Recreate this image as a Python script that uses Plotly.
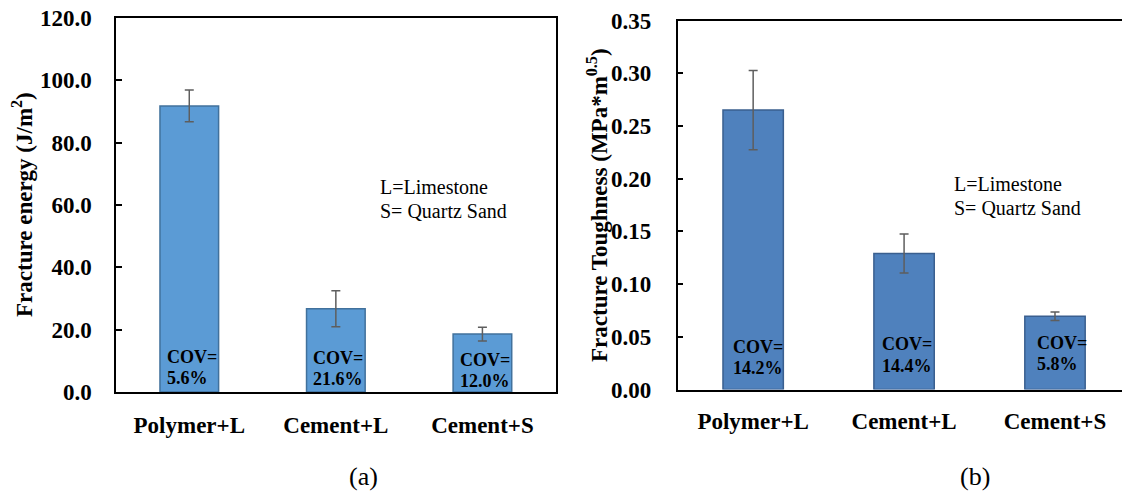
import plotly.graph_objects as go

# ---------------- data ----------------
categories = ["Polymer+L", "Cement+L", "Cement+S"]
energy = [91.8, 26.7, 18.6]
energy_err = [5.1, 5.8, 2.2]
energy_cov = ["5.6%", "21.6%", "12.0%"]
toughness = [0.265, 0.129, 0.0695]
toughness_err = [0.0376, 0.0186, 0.0040]
toughness_cov = ["14.2%", "14.4%", "5.8%"]
energy_ticks = [0, 20, 40, 60, 80, 100, 120]
toughness_ticks = [0.00, 0.05, 0.10, 0.15, 0.20, 0.25, 0.30, 0.35]

# ---------------- style / layout ----------------
FONT = "Liberation Serif"
W, H = 1122, 495
BAR_W = 0.4
# label placements (inside the bars)
e_lab_dx = [0.038, 0.038, 0.038]
e_lab_y1 = [11.2, 10.8, 10.3]
e_lab_y2 = [4.6, 4.2, 3.6]
t_lab_dx = [0.060, 0.046, 0.073]
t_lab_y1 = [0.0406, 0.0429, 0.0444]
t_lab_y2 = [0.0201, 0.0223, 0.0239]

xs = list(range(len(categories)))

fig = go.Figure()
fig.add_trace(go.Bar(
    x=xs, y=energy, width=BAR_W, xaxis="x", yaxis="y",
    marker=dict(color="#5B9BD5", line=dict(color="#41719C", width=1.5)),
    error_y=dict(type="data", array=energy_err, visible=True,
                 color="#5E5E5E", thickness=1.5, width=4.5),
    showlegend=False, hoverinfo="skip"))
fig.add_trace(go.Bar(
    x=xs, y=toughness, width=BAR_W, xaxis="x2", yaxis="y2",
    marker=dict(color="#4F81BD", line=dict(color="#3A5F8F", width=1.5)),
    error_y=dict(type="data", array=toughness_err, visible=True,
                 color="#5E5E5E", thickness=1.5, width=4.5),
    showlegend=False, hoverinfo="skip"))

left_dom = [116 / W, 555.7 / W]
right_dom = [677.7 / W, 1.0]
ybot_l, ytop_l = 392, 18
ybot_r, ytop_r = 389.5, 20.5

tickfont = dict(family=FONT, size=23, color="black")
catfont = dict(family=FONT, size=23, color="black")

axis_common = dict(showgrid=False, zeroline=False, showline=True,
                   linecolor="black", linewidth=1.5, automargin=False)

fig.update_layout(
    width=W, height=H,
    margin=dict(l=0, r=0, t=0, b=0, pad=0, autoexpand=False),
    paper_bgcolor="white", plot_bgcolor="white",
    font=dict(family=FONT, color="black"),
    xaxis=dict(domain=left_dom, anchor="y", range=[-0.5, 2.5],
               tickvals=xs, ticktext=[f"<b>{c}</b>" for c in categories],
               tickfont=catfont, ticks="", mirror=True,
               ticklabelstandoff=12, **axis_common),
    yaxis=dict(domain=[(H - ybot_l) / H, (H - ytop_l) / H], anchor="x",
               range=[0, 120], tickvals=energy_ticks,
               ticktext=[f"<b>{v:.1f}</b>" for v in energy_ticks],
               tickfont=tickfont, ticks="inside", ticklen=6, tickwidth=1.5,
               tickcolor="black", mirror=True, ticklabelstandoff=18,
               **axis_common),
    xaxis2=dict(domain=right_dom, anchor="y2", range=[-0.5, 2.444],
                tickvals=xs, ticktext=[f"<b>{c}</b>" for c in categories],
                tickfont=catfont, ticks="", mirror=True,
                ticklabelstandoff=10, **axis_common),
    yaxis2=dict(domain=[(H - ybot_r) / H, (H - ytop_r) / H], anchor="x2",
                range=[0, 0.35], tickvals=toughness_ticks,
                ticktext=[f"<b>{v:.2f}</b>" for v in toughness_ticks],
                tickfont=tickfont, ticks="inside", ticklen=6, tickwidth=1.5,
                tickcolor="black", mirror=False, ticklabelstandoff=20,
                **axis_common),
)

ann = []
covfont = dict(family=FONT, size=18, color="black")
for i in xs:
    ann.append(dict(x=i - BAR_W / 2 + e_lab_dx[i], y=e_lab_y1[i], xref="x", yref="y",
                    text="<b>COV=</b>", showarrow=False, xanchor="left",
                    yanchor="middle", font=covfont, borderpad=0))
    ann.append(dict(x=i - BAR_W / 2 + e_lab_dx[i], y=e_lab_y2[i], xref="x", yref="y",
                    text=f"<b>{energy_cov[i]}</b>", showarrow=False, xanchor="left",
                    yanchor="middle", font=covfont, borderpad=0))
    ann.append(dict(x=i - BAR_W / 2 + t_lab_dx[i], y=t_lab_y1[i], xref="x2", yref="y2",
                    text="<b>COV=</b>", showarrow=False, xanchor="left",
                    yanchor="middle", font=covfont, borderpad=0))
    ann.append(dict(x=i - BAR_W / 2 + t_lab_dx[i], y=t_lab_y2[i], xref="x2", yref="y2",
                    text=f"<b>{toughness_cov[i]}</b>", showarrow=False, xanchor="left",
                    yanchor="middle", font=covfont, borderpad=0))

notefont = dict(family=FONT, size=20, color="black")
notes = ["L=Limestone", "S= Quartz Sand"]
for px, pys in [(378.7, [187, 210.7]), (952.5, [184, 208.3])]:
    for t, py in zip(notes, pys):
        ann.append(dict(x=px / W, y=(H - py) / H, xref="paper", yref="paper",
                        text=t, showarrow=False, xanchor="left", yanchor="middle",
                        font=notefont, borderpad=0))

titlefont = dict(family=FONT, size=23, color="black")
ann.append(dict(x=22 / W, y=(H - 205) / H, xref="paper", yref="paper",
                text="<b>Fracture energy (J/m<sup>2</sup>)</b>", textangle=-90,
                showarrow=False, xanchor="center", yanchor="middle", font=titlefont))
ann.append(dict(x=597 / W, y=(H - 205) / H, xref="paper", yref="paper",
                text="<b>Fracture Toughness (MPa*m<sup>0.5</sup>)</b>", textangle=-90,
                showarrow=False, xanchor="center", yanchor="middle", font=titlefont))

panfont = dict(family=FONT, size=26, color="black")
ann.append(dict(x=363 / W, y=(H - 476) / H, xref="paper", yref="paper", text="(a)",
                showarrow=False, xanchor="center", yanchor="middle", font=panfont))
ann.append(dict(x=975 / W, y=(H - 476) / H, xref="paper", yref="paper", text="(b)",
                showarrow=False, xanchor="center", yanchor="middle", font=panfont))

fig.update_layout(annotations=ann)
fig.write_html("out.html")
